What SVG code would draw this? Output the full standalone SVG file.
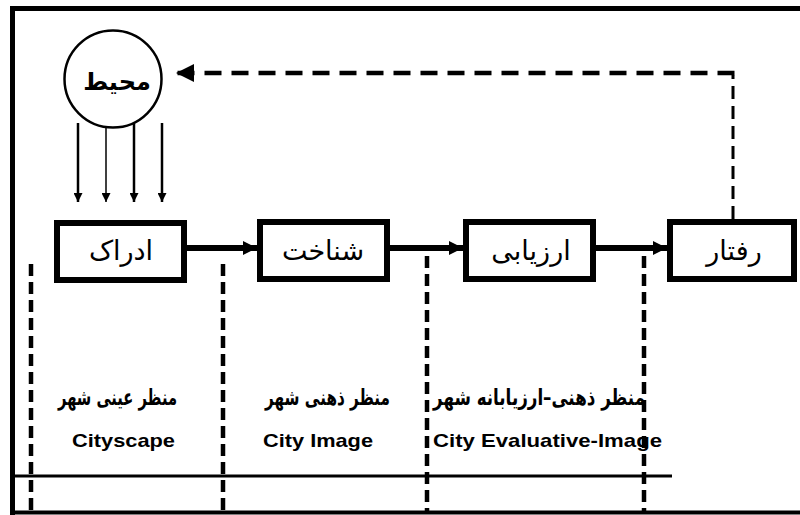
<svg xmlns="http://www.w3.org/2000/svg" width="800" height="515" viewBox="0 0 800 515">
<defs>
<style>
.box{fill:#fff;stroke:#000;stroke-width:6}
.fa{font-family:"DejaVu Sans","Noto Sans",sans-serif;fill:#000}
.lbl{font-size:27px;text-anchor:middle}
.fab{font-weight:bold;font-size:22px}
.en{font-family:"Liberation Sans",Arial,sans-serif;font-weight:bold;font-size:19px;fill:#000}
.frame{stroke:#000;fill:none}
.vd{stroke:#000;stroke-width:4.5;stroke-dasharray:12 6;fill:none}
</style>
<marker id="ah" viewBox="0 0 10 10" refX="10" refY="5" markerWidth="14" markerHeight="16" markerUnits="userSpaceOnUse" orient="auto">
<path d="M0,0 L10,5 L0,10 Z" fill="#000"/>
</marker>
<marker id="ahs" viewBox="0 0 10 10" refX="10" refY="5" markerWidth="10" markerHeight="9" markerUnits="userSpaceOnUse" orient="auto">
<path d="M0,0 L10,5 L0,10 Z" fill="#000"/>
</marker>
<marker id="ahd" viewBox="0 0 10 10" refX="10" refY="5" markerWidth="20" markerHeight="18" markerUnits="userSpaceOnUse" orient="auto">
<path d="M0,0 L10,5 L0,10 Z" fill="#000"/>
</marker>
</defs>
<rect width="800" height="515" fill="#fff"/>
<g id="frame">
<line class="frame" x1="12.5" y1="6" x2="12.5" y2="515" stroke-width="5"/>
<line class="frame" x1="10" y1="8.5" x2="800" y2="8.5" stroke-width="5"/>
<line class="frame" x1="10" y1="512.5" x2="800" y2="512.5" stroke-width="4"/>
<line class="frame" x1="12" y1="476" x2="672" y2="476" stroke-width="3"/>
</g>
<g id="dividers">
<line class="vd" x1="31" y1="264" x2="31" y2="512"/>
<line class="vd" x1="223" y1="264" x2="223" y2="512"/>
<line class="vd" x1="427" y1="256" x2="427" y2="512"/>
<line class="vd" x1="644" y1="256" x2="644" y2="512"/>
</g>
<g id="connectors">
<line x1="78" y1="123" x2="78" y2="202" stroke="#000" stroke-width="2.5" marker-end="url(#ahs)"/>
<line x1="106" y1="123" x2="106" y2="202" stroke="#000" stroke-width="1.5" marker-end="url(#ahs)"/>
<line x1="134" y1="123" x2="134" y2="202" stroke="#000" stroke-width="2.5" marker-end="url(#ahs)"/>
<line x1="162" y1="123" x2="162" y2="202" stroke="#000" stroke-width="2.5" marker-end="url(#ahs)"/>
<line x1="187" y1="248" x2="257" y2="248" stroke="#000" stroke-width="6" marker-end="url(#ah)"/>
<line x1="390" y1="248" x2="463" y2="248" stroke="#000" stroke-width="6" marker-end="url(#ah)"/>
<line x1="596" y1="248" x2="667" y2="248" stroke="#000" stroke-width="6" marker-end="url(#ah)"/>
<line x1="733" y1="219" x2="733" y2="75" stroke="#000" stroke-width="3" stroke-dasharray="13 7" fill="none"/>
<path d="M734.5,73 L176,73" stroke="#000" stroke-width="4.5" stroke-dasharray="17 10" fill="none" marker-end="url(#ahd)"/>
</g>
<g id="env">
<circle cx="113" cy="79" r="48.5" fill="#fff" stroke="#000" stroke-width="2.5"/>
<text class="fa" x="117" y="90" text-anchor="middle" font-size="24" font-weight="bold">محیط</text>
</g>
<g id="n1">
<rect class="box" x="57" y="223" width="127" height="57"/>
<text class="fa lbl" x="121" y="260">ادراک</text>
</g>
<g id="n2">
<rect class="box" x="260" y="222" width="127" height="57"/>
<text class="fa lbl" x="323" y="260">شناخت</text>
</g>
<g id="n3">
<rect class="box" x="466" y="222" width="127" height="57"/>
<text class="fa lbl" x="531" y="260">ارزیابی</text>
</g>
<g id="n4">
<rect class="box" x="670" y="222" width="124" height="57"/>
<text class="fa lbl" x="734" y="260">رفتار</text>
</g>
<g id="labels">
<text class="fa fab" x="58" y="405" textLength="119" lengthAdjust="spacingAndGlyphs">منظر عینی شهر</text>
<text class="en" x="72" y="447" textLength="103" lengthAdjust="spacingAndGlyphs">Cityscape</text>
<text class="fa fab" x="265" y="405" textLength="125" lengthAdjust="spacingAndGlyphs">منظر ذهنی شهر</text>
<text class="en" x="263" y="447" textLength="110" lengthAdjust="spacingAndGlyphs">City Image</text>
<text class="fa fab" x="433" y="405" textLength="212" lengthAdjust="spacingAndGlyphs">منظر ذهنی–ارزیابانه شهر</text>
<text class="en" x="433" y="447" textLength="229" lengthAdjust="spacingAndGlyphs">City Evaluative-Image</text>
</g>
</svg>
